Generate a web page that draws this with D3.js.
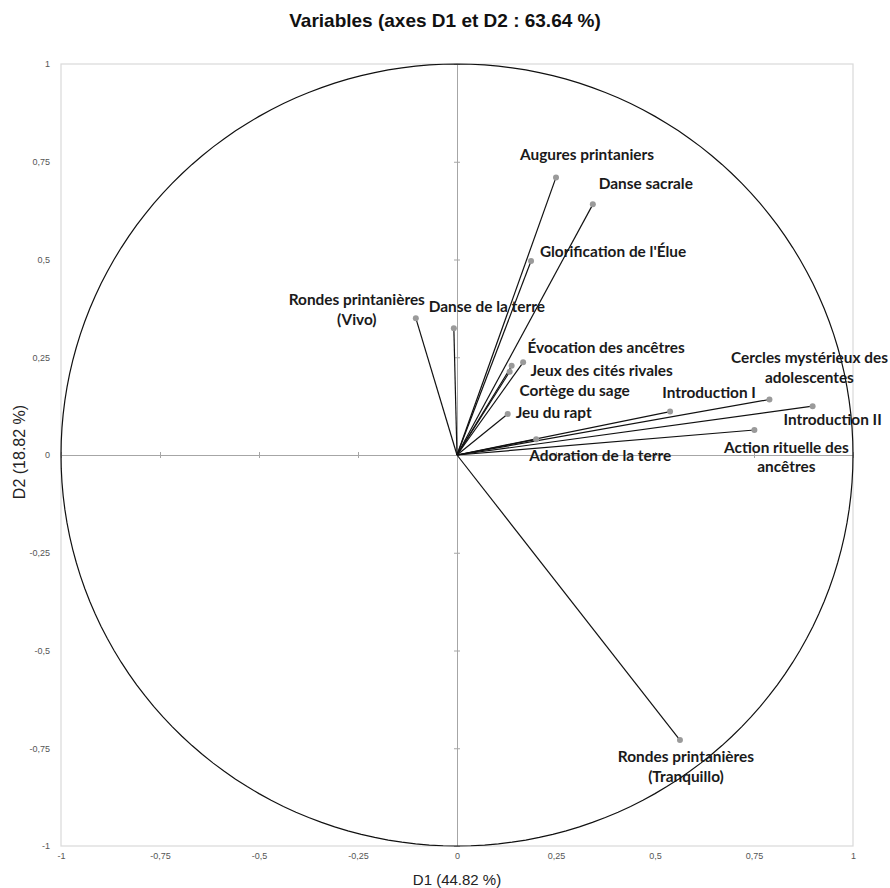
<!DOCTYPE html>
<html>
<head>
<meta charset="utf-8">
<script src="https://cdn.jsdelivr.net/npm/d3@7"></script>
<style>
  body { margin: 0; background: #fff; }
  svg { display: block; }
  .lbl { font-family: Lato, "Open Sans", sans-serif; font-weight: bold; font-size: 15.4px; fill: #1a1a1a; }
  .tick text { font-family: "Liberation Sans", Arial, sans-serif; font-size: 9px; fill: #555; }
</style>
</head>
<body>
<script>
const width = 890;
const height = 888;

// variables (labels) and their coordinates on D1 / D2
const names = [
  "Augures printaniers",
  "Danse sacrale",
  "Glorification de l'Élue",
  "Rondes printanières|(Vivo)",
  "Danse de la terre",
  "Évocation des ancêtres",
  "Jeux des cités rivales",
  "Cortège du sage",
  "Jeu du rapt",
  "Introduction I",
  "Cercles mystérieux des|adolescentes",
  "Introduction II",
  "Action rituelle des|ancêtres",
  "Adoration de la terre",
  "Rondes printanières|(Tranquillo)"
];
const d1 = [0.250, 0.343, 0.187, -0.104, -0.008, 0.167, 0.138, 0.133, 0.128, 0.538, 0.789, 0.898, 0.751, 0.200, 0.563];
const d2 = [0.710, 0.641, 0.496, 0.350, 0.324, 0.237, 0.228, 0.213, 0.105, 0.111, 0.142, 0.125, 0.064, 0.040, -0.729];
const ticks = [-1, -0.75, -0.5, -0.25, 0, 0.25, 0.5, 0.75, 1];

// label placement (pixel offsets from the point: dx, dy of first baseline)
const labelDx = [31, 53, 82, -59, 33, 83, 90, 65, 46, 39, 40, 20, 32, 64, 6];
const labelDy = [-17, -15, -4, -13, -16, -9, 10, 24, 4, -14, -36, 19, 23, 22, 22];

const svg = d3.select("body").append("svg")
  .attr("width", width)
  .attr("height", height);

const x = d3.scaleLinear().domain([-1, 1]).range([61, 853]);
const y = d3.scaleLinear().domain([-1, 1]).range([846, 64]);
const fmt = (d) => String(d).replace(".", ",");

// plot frame
svg.append("rect")
  .attr("x", x(-1)).attr("y", y(1))
  .attr("width", x(1) - x(-1)).attr("height", y(-1) - y(1))
  .attr("fill", "none").attr("stroke", "#d9d9d9").attr("stroke-width", 1.2);

// tick labels along the frame
svg.append("g")
  .attr("transform", `translate(0, ${ y(-1) + 4 })`)
  .call(d3.axisBottom(x).tickValues(ticks).tickSize(0).tickFormat(fmt))
  .call((g) => g.select(".domain").remove());

svg.append("g")
  .attr("transform", `translate(${ x(-1) - 8 }, 0)`)
  .call(d3.axisLeft(y).tickValues(ticks).tickSize(0).tickFormat(fmt))
  .call((g) => g.select(".domain").remove());

// center axes with crossing ticks
const axisColor = "#a6a6a6";
[d3.axisBottom(x), d3.axisTop(x)].forEach((ax) => {
  svg.append("g")
    .attr("transform", `translate(0, ${ y(0) })`)
    .call(ax.tickValues(ticks).tickSize(3).tickFormat(""))
    .call((g) => g.selectAll("line, path").attr("stroke", axisColor));
});
[d3.axisLeft(y), d3.axisRight(y)].forEach((ax) => {
  svg.append("g")
    .attr("transform", `translate(${ x(0) }, 0)`)
    .call(ax.tickValues(ticks).tickSize(3).tickFormat(""))
    .call((g) => g.selectAll("line, path").attr("stroke", axisColor));
});

// correlation circle
const angles = d3.range(0, 361, 2).map((a) => a * Math.PI / 180);
svg.append("path")
  .datum(angles)
  .attr("fill", "none")
  .attr("stroke", "#111")
  .attr("stroke-width", 1.2)
  .attr("d", d3.line().x((a) => x(Math.cos(a))).y((a) => y(Math.sin(a))));

const data = names.map((n, i) => ({ name: n, d1: d1[i], d2: d2[i], dx: labelDx[i], dy: labelDy[i] }));

// vectors
svg.append("g")
  .selectAll("line")
  .data(data)
  .enter().append("line")
  .attr("x1", x(0)).attr("y1", y(0))
  .attr("x2", (d) => x(d.d1)).attr("y2", (d) => y(d.d2))
  .attr("stroke", "#111")
  .attr("stroke-width", 1.2);

svg.append("g")
  .selectAll("circle")
  .data(data)
  .enter().append("circle")
  .attr("cx", (d) => x(d.d1)).attr("cy", (d) => y(d.d2))
  .attr("r", 3)
  .attr("fill", "#9a9a9a");

// labels
const lbl = svg.append("g")
  .selectAll("text")
  .data(data)
  .enter().append("text")
  .attr("class", "lbl")
  .attr("text-anchor", "middle")
  .attr("x", (d) => x(d.d1) + d.dx)
  .attr("y", (d) => y(d.d2) + d.dy);

lbl.selectAll("tspan")
  .data((d) => d.name.split("|").map((t) => ({ t: t, x: x(d.d1) + d.dx })))
  .enter().append("tspan")
  .attr("x", (s) => s.x)
  .attr("dy", (s, i) => i ? 19.5 : 0)
  .text((s) => s.t);

// titles
svg.append("text")
  .attr("x", 445).attr("y", 27)
  .attr("text-anchor", "middle")
  .style("font-family", "'Liberation Sans Narrow', 'Liberation Sans', Arial, sans-serif")
  .style("font-weight", "bold")
  .style("font-size", "19px")
  .style("fill", "#111")
  .text("Variables (axes D1 et D2 : 63.64 %)");

svg.append("text")
  .attr("x", x(0)).attr("y", 885)
  .attr("text-anchor", "middle")
  .style("font-family", "'Liberation Sans', Arial, sans-serif")
  .style("font-size", "15px")
  .style("fill", "#222")
  .text("D1 (44.82 %)");

svg.append("text")
  .attr("transform", `translate(25, 452) rotate(-90)`)
  .attr("text-anchor", "middle")
  .style("font-family", "'Liberation Sans', Arial, sans-serif")
  .style("font-size", "16px")
  .style("fill", "#222")
  .text("D2 (18.82 %)");
</script>
</body>
</html>
